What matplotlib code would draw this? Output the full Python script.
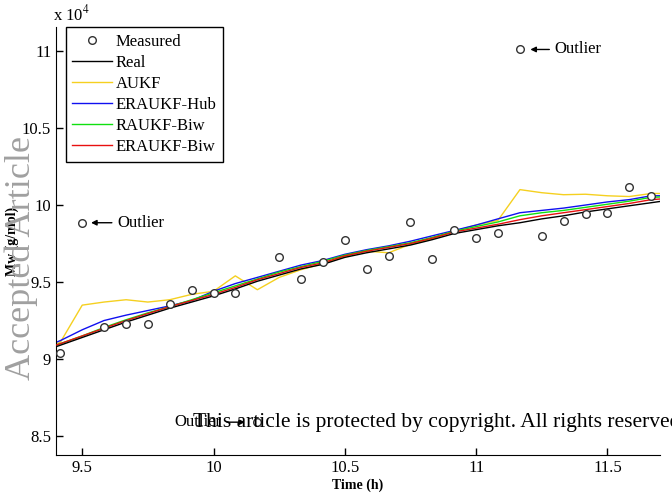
import matplotlib
matplotlib.use('Agg')
import matplotlib.pyplot as plt

plt.rcParams['font.family'] = ['Liberation Serif', 'DejaVu Serif']
plt.rcParams['mathtext.fontset'] = 'stix'

# measured samples (Mw in 1e4 g/mol)
t_meas = [9.417, 9.5, 9.583, 9.667, 9.75, 9.833, 9.917, 10.0, 10.083, 10.167,
          10.25, 10.333, 10.417, 10.5, 10.583, 10.667, 10.75, 10.833, 10.917, 11.0,
          11.083, 11.167, 11.25, 11.333, 11.417, 11.5, 11.583, 11.667]
mw_meas = [9.04, 9.885, 9.205, 9.23, 9.23, 9.36, 9.445, 9.43, 9.43, 8.59,
           9.66, 9.517, 9.63, 9.773, 9.586, 9.669, 9.89, 9.651, 9.838, 9.786,
           9.818, 11.01, 9.799, 9.896, 9.942, 9.946, 10.12, 10.058]

# estimator time grid (runs a bit past the axis limits)
t_est = [9.333, 9.417, 9.5, 9.583, 9.667, 9.75, 9.833, 9.917, 10.0, 10.083, 10.167,
         10.25, 10.333, 10.417, 10.5, 10.583, 10.667, 10.75, 10.833, 10.917, 11.0,
         11.083, 11.167, 11.25, 11.333, 11.417, 11.5, 11.583, 11.667, 11.75]
real = [9.04, 9.09, 9.14, 9.19, 9.24, 9.285, 9.33, 9.37, 9.41, 9.455, 9.505,
        9.545, 9.585, 9.615, 9.66, 9.69, 9.715, 9.74, 9.775, 9.815, 9.84,
        9.865, 9.885, 9.91, 9.93, 9.955, 9.975, 9.995, 10.015, 10.035]
aukf = [9.03, 9.11, 9.35, 9.37, 9.385, 9.37, 9.385, 9.42, 9.44, 9.54, 9.45,
        9.53, 9.58, 9.62, 9.665, 9.70, 9.69, 9.745, 9.78, 9.83, 9.87,
        9.90, 10.10, 10.08, 10.067, 10.07, 10.06, 10.055, 10.075, 10.075]
erukf_hub = [9.06, 9.12, 9.19, 9.25, 9.285, 9.315, 9.345, 9.38, 9.44, 9.49, 9.53,
             9.57, 9.61, 9.64, 9.68, 9.71, 9.735, 9.765, 9.80, 9.835, 9.87,
             9.91, 9.95, 9.965, 9.98, 10.0, 10.02, 10.035, 10.06, 10.06]
raukf_biw = [9.05, 9.10, 9.15, 9.205, 9.255, 9.30, 9.34, 9.385, 9.43, 9.475, 9.52,
             9.565, 9.60, 9.635, 9.675, 9.705, 9.73, 9.755, 9.79, 9.83, 9.86,
             9.89, 9.93, 9.95, 9.965, 9.985, 10.005, 10.025, 10.05, 10.055]
eraukf_biw = [9.05, 9.10, 9.15, 9.20, 9.25, 9.295, 9.34, 9.38, 9.42, 9.465, 9.515,
              9.555, 9.595, 9.625, 9.67, 9.70, 9.725, 9.75, 9.785, 9.825, 9.85,
              9.875, 9.905, 9.93, 9.95, 9.97, 9.99, 10.01, 10.035, 10.045]

fig = plt.figure(figsize=(6.72, 4.96), dpi=100)
ax = fig.add_axes([0.0833, 0.0827, 0.8987, 0.8629])

ax.plot(t_meas, mw_meas, 'o', mfc='white', mec='#333333', ms=5.5, mew=1.0, label='Measured', zorder=5)
ax.plot(t_est, real, color='black', lw=1.0, label='Real', zorder=4)
ax.plot(t_est, aukf, color='#f5d020', lw=1.0, label='AUKF', zorder=1)
ax.plot(t_est, erukf_hub, color='#1010f0', lw=1.0, label='ERAUKF-Hub', zorder=2)
ax.plot(t_est, raukf_biw, color='#10e010', lw=1.0, label='RAUKF-Biw', zorder=2.5)
ax.plot(t_est, eraukf_biw, color='#e81010', lw=1.0, label='ERAUKF-Biw', zorder=3)

ax.set_xlim(9.4, 11.7)
ax.set_ylim(8.377, 11.156)
ax.set_xticks([9.5, 10, 10.5, 11, 11.5])
ax.set_xticklabels(['9.5', '10', '10.5', '11', '11.5'])
ax.set_yticks([8.5, 9, 9.5, 10, 10.5, 11])
ax.set_yticklabels(['8.5', '9', '9.5', '10', '10.5', '11'])
ax.tick_params(direction='in', length=5, width=1, labelsize=12)
ax.spines['top'].set_visible(False)
ax.spines['right'].set_visible(False)
ax.set_xlabel('Time (h)', fontsize=10, fontweight='bold', labelpad=2)
ax.set_ylabel('Mw (g/mol)', fontsize=10, fontweight='bold')
ax.yaxis.set_label_coords(-0.062, 0.5)
ax.text(-0.005, 1.005, 'x 10$^{4}$', transform=ax.transAxes, fontsize=12, ha='left', va='bottom')

leg = ax.legend(loc='upper left', bbox_to_anchor=(0.016, 0.999), borderaxespad=0,
                fontsize=12, handlelength=2.4, handletextpad=0.2, labelspacing=0.3,
                fancybox=False, edgecolor='black', framealpha=1)
leg.get_frame().set_linewidth(1.0)

arrow = dict(arrowstyle='-|>', color='black', lw=1.0, mutation_scale=8)
ax.annotate('Outlier', xy=(9.523, 9.885), xytext=(9.634, 9.885), fontsize=12,
            va='center', arrowprops=arrow)
ax.annotate('Outlier', xy=(11.196, 11.01), xytext=(11.30, 11.01), fontsize=12,
            va='center', arrowprops=arrow)
ax.annotate('Outlier', xy=(10.13, 8.59), xytext=(10.03, 8.59), fontsize=12,
            va='center', ha='right', arrowprops=arrow)

fig.text(21 / 672, 1 - 258 / 496, 'Accepted Article', rotation=90, fontsize=26,
         color='#a0a0a0', ha='center', va='center')
fig.text(193 / 672, 1 - 422 / 496, 'This article is protected by copyright. All rights reserved.',
         fontsize=15.5, color='black', ha='left', va='center')

fig.savefig('out.png', dpi=100)
